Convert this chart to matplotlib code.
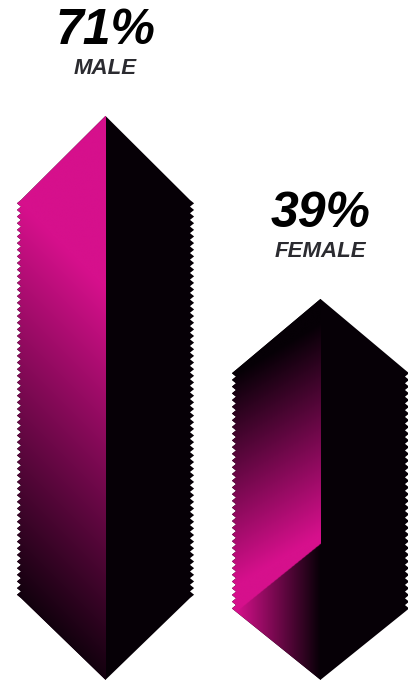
import numpy as np
import matplotlib.pyplot as plt
from matplotlib.patches import Polygon

labels = ['MALE', 'FEMALE']
shares = [71, 39]
base = -27.6  # every gem hangs down to the same floor
shading = ['fade', 'fold']

MAGENTA = np.array([214, 16, 140]) / 255
INK = np.array([6, 0, 6]) / 255

half_w = 0.393
tip_top = [14.7, 12.4]
tip_bot = [14.3, 11.9]
tooth_amp = 0.019
tooth_h = 1.15

fig = plt.figure(figsize=(4.08, 6.8), dpi=100)
ax = fig.add_axes([0, 0, 1, 1])
ax.set_xlim(-0.4907, 1.407)
ax.set_ylim(-27.63, 91.27)
ax.axis('off')


def outline(cx, top, bot, t_top, t_bot):
    y_hi, y_lo = top - t_top, bot + t_bot
    n = max(int((y_hi - y_lo) / tooth_h), 1)
    ys = np.linspace(y_hi, y_lo, 2 * n + 1)
    off = np.where(np.arange(2 * n + 1) % 2 == 1, tooth_amp, 0.0)
    right = [(cx + half_w + o, y) for o, y in zip(off, ys)]
    left = [(cx - half_w - o, y) for o, y in zip(off[::-1], ys[::-1])]
    return [(cx, top)] + right + [(cx, bot)] + left


def to_px(xs, ys):
    pts = ax.transData.transform(np.column_stack([xs.ravel(), ys.ravel()]))
    h = fig.bbox.height
    return pts[:, 0].reshape(xs.shape), (h - pts[:, 1]).reshape(xs.shape)


def shade(kind, xp, yp, cxp, top_px, bot_px, tb_px, hw_px):
    if kind == 'fade':
        d = yp + (cxp - xp)
        return (bot_px + 25 - d) / 416
    # folded ribbon: lit from below, with a crease near the bottom
    d = yp - 0.6 * (cxp - xp)
    t = (d - (top_px + 24)) / 211
    crease = bot_px - 2 * tb_px + (cxp - xp) / hw_px * tb_px
    lower = (cxp - xp) / hw_px
    return np.where(yp > crease, lower, t)


for i, (v, kind) in enumerate(zip(shares, shading)):
    poly = Polygon(outline(i, v, base, tip_top[i], tip_bot[i]),
                   closed=True, facecolor=INK, edgecolor='none', zorder=1)
    ax.add_patch(poly)

    x0, x1 = i - half_w - tooth_amp, i
    gx = np.linspace(x0, x1, 200)
    gy = np.linspace(base, v, 1200)
    X, Y = np.meshgrid(gx, gy)
    xp, yp = to_px(X, Y)
    cxp, top_px = to_px(np.array([i]), np.array([v]))
    _, bot_px = to_px(np.array([i]), np.array([base]))
    _, sh_px = to_px(np.array([i]), np.array([base + tip_bot[i]]))
    hw_px = to_px(np.array([i + half_w]), np.array([v]))[0][0] - cxp[0]
    t = shade(kind, xp, yp, cxp[0], top_px[0], bot_px[0],
              bot_px[0] - sh_px[0], hw_px)
    t = np.clip(t, 0, 1)[..., None]
    rgb = INK + t * (MAGENTA - INK)
    im = ax.imshow(rgb, extent=(x0, x1, base, v), origin='lower',
                   aspect='auto', interpolation='bilinear', zorder=2)
    im.set_clip_path(poly)

    ax.annotate(f'{v}%', xy=(i, v), xytext=(0, 51.5), textcoords='offset points',
                ha='center', va='baseline', fontsize=36, fontweight='bold',
                fontstyle='italic', family='Liberation Sans', color='black')
    ax.annotate(labels[i], xy=(i, v), xytext=(0, 30), textcoords='offset points',
                ha='center', va='baseline', fontsize=16, fontweight='bold',
                fontstyle='italic', family='Liberation Sans', color='#2b2b30')

ax.set_xlim(-0.4907, 1.407)
ax.set_ylim(-27.63, 91.27)
fig.savefig('out.png', dpi=100)
